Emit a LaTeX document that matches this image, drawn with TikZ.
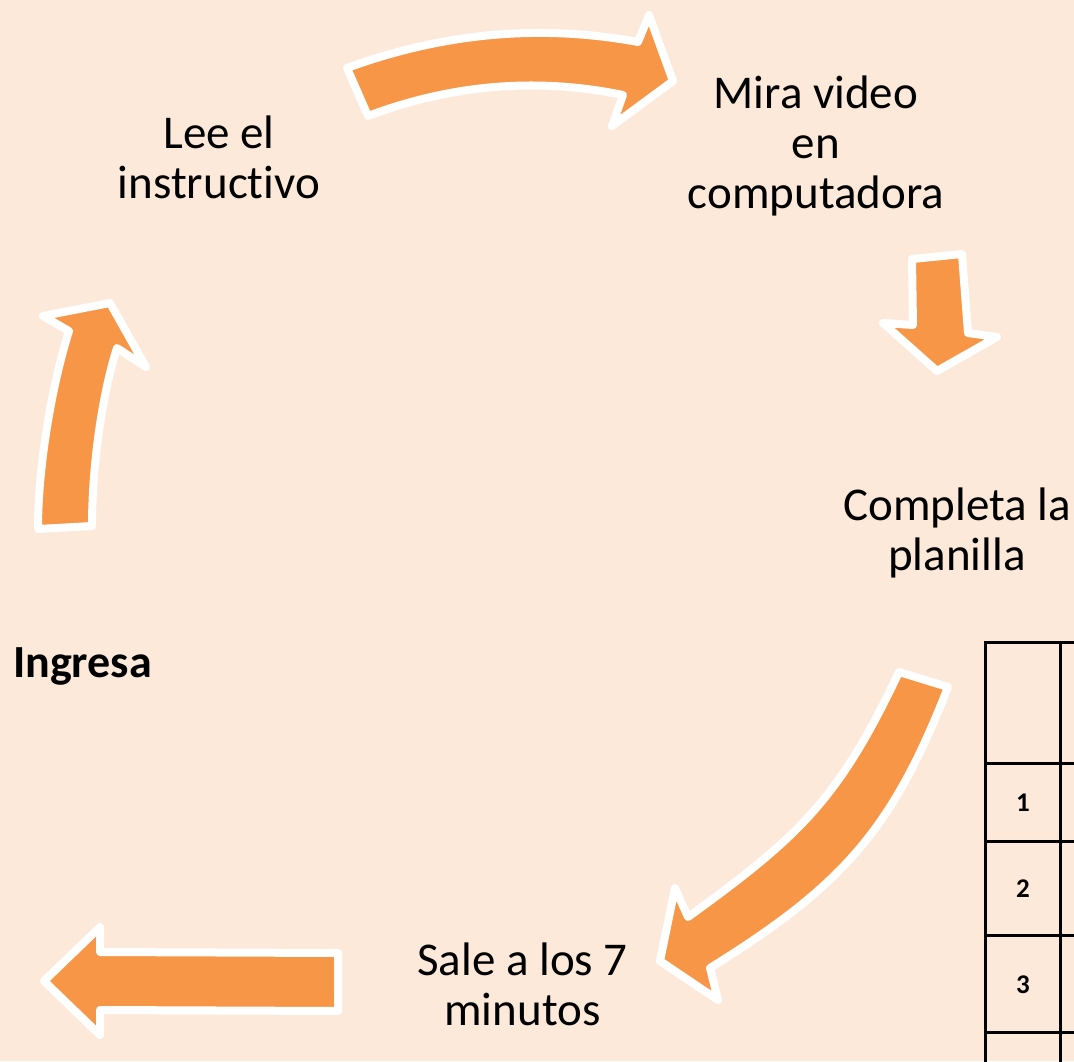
\documentclass[tikz,border=0pt]{standalone}
\usepackage{fontspec}
\setmainfont{Carlito}[Ligatures=NoCommon]
\definecolor{bgpeach}{RGB}{253,233,217}
\definecolor{arrorange}{RGB}{247,150,70}
\begin{document}
\begin{tikzpicture}[x=1pt,y=-1pt,
  arrowshape/.style={fill=arrorange,draw=white,line width=8pt,line join=round},
  lbl/.style={font=\fontsize{47}{50}\selectfont,align=center,anchor=base,inner sep=0pt},
  boldlbl/.style={font=\bfseries\fontsize{46}{50}\selectfont,anchor=base west,inner sep=0pt},
  tabline/.style={draw=black,line width=3pt},
  num/.style={font=\bfseries\fontsize{27}{30}\selectfont,inner sep=0pt}]
\useasboundingbox (0,0) rectangle (1074,1061);
\clip (0,0) rectangle (1074,1061);
\fill[bgpeach] (0,0) rectangle (1074,1061);

% arrows
\path[arrowshape] (347,68) .. controls (443.7,32.7) and (540.7,24) .. (638,42) -- (649,15) -- (673,81) -- (612,126) -- (623,95) .. controls (537.3,77.3) and (452.3,84.3) .. (368,116) -- cycle;
\path[arrowshape] (912,259) -- (962,254) -- (968,333) -- (997,337) -- (937,371) -- (883,323) -- (913,325) -- cycle;
\path[arrowshape] (899,672) -- (948,687) .. controls (892,831) and (842,886) .. (710,968) -- (718,1000) -- (660,961) -- (675,888) -- (688,917) .. controls (800,836) and (839,799) .. (899,672) -- cycle;
\path[arrowshape] (44,981) -- (100,927) -- (100,952) -- (338,953) -- (338,1011) -- (100,1010) -- (100,1035) -- cycle;
\path[arrowshape] (38,529) -- (92,526) .. controls (92,466) and (102,395) .. (117,348) -- (146,367) -- (110,303) -- (43,316) -- (69,331) .. controls (52.5,383) and (38,464) .. (38,529) -- cycle;

% labels (anchor = baseline of last line)
\node[lbl] (lee) at (219,198.3) {Lee el\\instructivo};
\node[lbl] (mira) at (816,208.3) {Mira video\\en\\computadora};
\node[lbl] (comp) at (957,570) {Completa la\\planilla};
\node[lbl] (sale) at (522.5,1025) {Sale a los 7\\minutos};
\node[boldlbl] (ingresa) at (13,677.3) {Ingresa};

% table
\draw[tabline] (1090,642) -- (985,642) -- (985,1080);
\draw[tabline] (1060,642) -- (1060,1080);
\draw[tabline] (985,763) -- (1090,763);
\draw[tabline] (985,841) -- (1090,841);
\draw[tabline] (985,935) -- (1090,935);
\draw[tabline] (985,1032) -- (1090,1032);
\node[num] (n1) at (1023,803) {1};
\node[num] (n2) at (1023,889) {2};
\node[num] (n3) at (1023,985) {3};
\end{tikzpicture}
\end{document}
